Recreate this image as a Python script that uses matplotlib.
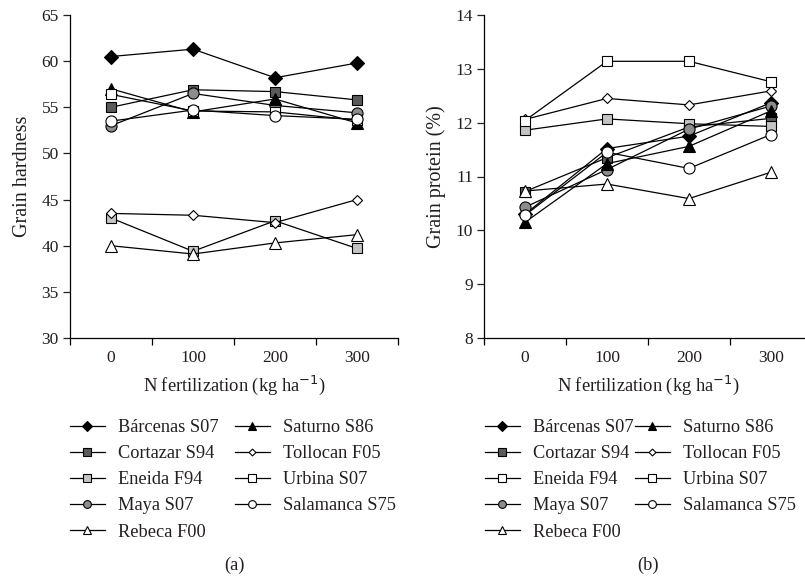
import matplotlib
matplotlib.use("Agg")
import matplotlib.pyplot as plt
from matplotlib.legend import Legend

plt.rcParams['font.family'] = ['Liberation Serif', 'DejaVu Serif']
TXT = '#231f20'

n_levels = ['0', '100', '200', '300']
cultivars = ['Bárcenas S07', 'Cortazar S94', 'Eneida F94', 'Maya S07', 'Rebeca F00',
             'Saturno S86', 'Tollocan F05', 'Urbina S07', 'Salamanca S75']

# Grain hardness (panel a)
hard_barcenas = [60.5, 61.3, 58.2, 59.8]
hard_cortazar = [55.0, 56.9, 56.7, 55.8]
hard_eneida = [43.0, 39.4, 42.7, 39.7]
hard_maya = [53.0, 56.5, 55.2, 54.4]
hard_rebeca = [40.0, 39.1, 40.3, 41.2]
hard_saturno = [57.0, 54.5, 55.9, 53.3]
hard_tollocan = [43.5, 43.3, 42.5, 45.0]
hard_urbina = [56.4, 54.6, 54.5, 53.6]
hard_salamanca = [53.5, 54.7, 54.1, 53.7]

# Grain protein (panel b)
prot_barcenas = [10.30, 11.52, 11.75, 12.37]
prot_cortazar = [10.72, 11.35, 11.92, 12.08]
prot_eneida = [11.86, 12.07, 11.98, 11.93]
prot_maya = [10.43, 11.13, 11.88, 12.31]
prot_rebeca = [10.73, 10.86, 10.59, 11.08]
prot_saturno = [10.15, 11.24, 11.56, 12.22]
prot_tollocan = [12.06, 12.45, 12.33, 12.59]
prot_urbina = [12.04, 13.14, 13.14, 12.76]
prot_salamanca = [10.28, 11.45, 11.15, 11.78]

hardness = [hard_barcenas, hard_cortazar, hard_eneida, hard_maya, hard_rebeca,
            hard_saturno, hard_tollocan, hard_urbina, hard_salamanca]
protein = [prot_barcenas, prot_cortazar, prot_eneida, prot_maya, prot_rebeca,
           prot_saturno, prot_tollocan, prot_urbina, prot_salamanca]

styles = [
    dict(marker='D', ms=7.5, mfc='black'),
    dict(marker='s', ms=7.5, mfc='#5a5a5a'),
    dict(marker='s', ms=7.5, mfc='#c4c4c4'),
    dict(marker='o', ms=8, mfc='#8c8c8c'),
    dict(marker='^', ms=8, mfc='white'),
    dict(marker='^', ms=8, mfc='black'),
    dict(marker='D', ms=5, mfc='white'),
    dict(marker='s', ms=7.5, mfc='white'),
    dict(marker='o', ms=8, mfc='white'),
]

W, H = 805, 580
fig = plt.figure(figsize=(W / 100, H / 100), dpi=100)


def fx(x):
    return x / W


def fy(y):
    return 1 - y / H


def make_axes(x0, x1, ytop, ybot):
    return fig.add_axes([fx(x0), fy(ybot), fx(x1) - fx(x0), fy(ytop) - fy(ybot)])


axA = make_axes(70, 398, 15, 338)
axB = make_axes(484, 812, 15, 338)

xpos = list(range(len(n_levels)))
fs_tick = 12.5
fs_lab = 13.3
fs_leg = 13.2

for ax, data, ylim, ylabel in [(axA, hardness, (30, 65), 'Grain hardness'),
                               (axB, protein, (8, 14), 'Grain protein (%)')]:
    for name, vals, st in zip(cultivars, data, styles):
        ax.plot(xpos, vals, color='black', lw=0.9, marker=st['marker'], ms=st['ms'],
                mfc=st['mfc'], mec='black', mew=0.8, label=name)
    ax.set_xlim(-0.5, len(n_levels) - 0.5)
    ax.set_ylim(*ylim)
    step = 5 if ylim[1] > 20 else 1
    ax.set_yticks(list(range(ylim[0], ylim[1] + 1, step)))
    ax.set_xticks([i - 0.5 for i in range(len(n_levels) + 1)])
    ax.set_xticklabels([])
    ax.set_xticks(xpos, minor=True)
    ax.set_xticklabels(n_levels, minor=True)
    ax.tick_params(axis='x', which='minor', length=0, pad=9, labelsize=fs_tick, colors=TXT)
    ax.tick_params(axis='x', which='major', length=5, direction='out', width=0.9)
    ax.tick_params(axis='y', length=5, direction='out', width=0.9, labelsize=fs_tick, colors=TXT, pad=3)
    for s in ['top', 'right']:
        ax.spines[s].set_visible(False)
    for s in ['left', 'bottom']:
        ax.spines[s].set_linewidth(0.9)
    ax.set_xlabel('N fertilization (kg ha$^{-1}$)', fontsize=fs_lab, color=TXT, labelpad=5)
    ax.set_ylabel(ylabel, fontsize=14.5, color=TXT, labelpad=7)


def column_legend(ax, handles, labels, x_left, y_top):
    leg = Legend(ax, handles, labels, loc='upper left',
                 bbox_to_anchor=(fx(x_left), fy(y_top)), bbox_transform=fig.transFigure,
                 ncol=1, frameon=False, fontsize=fs_leg, borderpad=0, handlelength=1.9,
                 handletextpad=0.72, labelspacing=0.5, labelcolor=TXT, borderaxespad=0,
                 markerscale=0.7)
    ax.add_artist(leg)
    return leg


for ax, x1, x2 in [(axA, 70, 235), (axB, 485, 635)]:
    h, l = ax.get_legend_handles_labels()
    lg1 = column_legend(ax, h[:5], l[:5], x1, 419)
    lg2 = column_legend(ax, h[5:], l[5:], x2, 419)
    if ax is axB:
        lg1.legend_handles[2].set_markerfacecolor('white')

fig.text(fx(234), fy(565), '(a)', ha='center', va='center', fontsize=fs_lab, color=TXT)
fig.text(fx(648), fy(565), '(b)', ha='center', va='center', fontsize=fs_lab, color=TXT)

fig.savefig('out.png', dpi=100)
